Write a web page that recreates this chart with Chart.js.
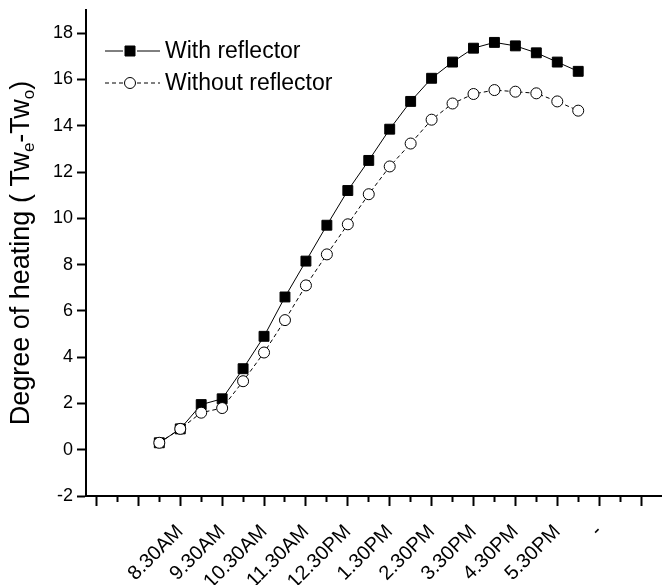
<!DOCTYPE html>
<html>
<head>
<meta charset="utf-8">
<script src="https://cdn.jsdelivr.net/npm/chart.js@4"></script>
<style>
  body { margin: 0; background: #fff; }
  #wrap { width: 662px; height: 585px; }
</style>
</head>
<body>
<div id="wrap"><canvas id="heating" width="662" height="585"></canvas></div>
<script>
// tick slots are half hours, labels sit on every second one
const xTickLabels = ['', '', '', '', '8.30AM', '', '9.30AM', '', '10.30AM', '', '11.30AM', '', '12.30PM', '',
	'1.30PM', '', '2.30PM', '', '3.30PM', '', '4.30PM', '', '5.30PM', '', '-', '', '']
const readingSlots = [3, 4, 5, 6, 7, 8, 9, 10, 11, 12, 13, 14, 15, 16, 17, 18, 19, 20, 21, 22, 23]
const withReflector = [0.3, 0.9, 1.95, 2.2, 3.5, 4.9, 6.6, 8.15, 9.7, 11.2, 12.5, 13.85, 15.05, 16.05, 16.75,
	17.35, 17.6, 17.45, 17.15, 16.75, 16.35]
const withoutReflector = [0.3, 0.9, 1.6, 1.8, 2.96, 4.2, 5.6, 7.1, 8.44, 9.74, 11.04, 12.24, 13.23, 14.26, 14.96,
	15.37, 15.54, 15.47, 15.4, 15.05, 14.65]
const yMin = -2
const yMax = 19

const FONT = "'Liberation Sans', Arial, sans-serif"
Chart.defaults.font.family = FONT
Chart.defaults.color = '#000'

const toPoints = values => values.map((y, i) => ({ x: readingSlots[i], y }))

// y title with subscripts + legend inside the plot
const overlay = {
	id: 'overlay',
	afterDraw(chart) {
		const { ctx, chartArea } = chart
		ctx.save()
		ctx.translate(22, (chartArea.top + chartArea.bottom) / 2)
		ctx.rotate(-Math.PI / 2)
		ctx.fillStyle = '#000'
		ctx.textBaseline = 'middle'
		const parts = [
			['Degree of heating ( Tw', 27, 0],
			['e', 17, 7],
			['-Tw', 27, 0],
			['o', 17, 7],
			[')', 27, 0]
		]
		let total = 0
		parts.forEach(p => {
			ctx.font = `${p[1]}px ${FONT}`
			total += ctx.measureText(p[0]).width
		})
		let x = -total / 2
		parts.forEach(p => {
			ctx.font = `${p[1]}px ${FONT}`
			ctx.fillText(p[0], x, p[2])
			x += ctx.measureText(p[0]).width
		})
		ctx.restore()

		ctx.save()
		ctx.font = `23px ${FONT}`
		ctx.textBaseline = 'middle'
		chart.data.datasets.forEach((ds, i) => {
			const y = 51 + 32 * i
			ctx.strokeStyle = '#000'
			ctx.lineWidth = 1
			ctx.setLineDash(ds.borderDash || [])
			ctx.beginPath()
			ctx.moveTo(105, y); ctx.lineTo(123, y)
			ctx.moveTo(137, y); ctx.lineTo(160, y)
			ctx.stroke()
			ctx.setLineDash([])
			ctx.fillStyle = ds.pointBackgroundColor
			ctx.beginPath()
			if (ds.pointStyle === 'rect') ctx.rect(125, y - 5, 10, 10)
			else ctx.arc(130, y, ds.pointRadius, 0, Math.PI * 2)
			ctx.fill()
			ctx.stroke()
			ctx.fillStyle = '#000'
			ctx.fillText(ds.label, 165, y + 1)
		})
		ctx.restore()
	}
}

new Chart(document.getElementById('heating'), {
	type: 'line',
	data: {
		datasets: [
			{
				label: 'With reflector',
				data: toPoints(withReflector),
				order: 1,
				borderColor: '#000',
				borderWidth: 1,
				pointStyle: 'rect',
				pointRadius: 7,
				pointBackgroundColor: '#000',
				pointBorderColor: '#000',
				pointBorderWidth: 1
			},
			{
				label: 'Without reflector',
				data: toPoints(withoutReflector),
				order: 0,
				borderColor: '#000',
				borderWidth: 1,
				borderDash: [4, 3],
				pointStyle: 'circle',
				pointRadius: 5.5,
				pointBackgroundColor: '#fff',
				pointBorderColor: '#000',
				pointBorderWidth: 1
			}
		]
	},
	options: {
		responsive: false,
		animation: false,
		clip: false,
		layout: { autoPadding: false, padding: { top: 10, right: 0, bottom: 0, left: 0 } },
		plugins: {
			legend: { display: false },
			tooltip: { enabled: false }
		},
		scales: {
			x: {
				type: 'linear',
				min: -0.5,
				max: 27,
				afterBuildTicks: s => { s.ticks = xTickLabels.map((_, i) => ({ value: i })) },
				afterFit: s => {
					s.height = 89
					s.paddingLeft = 0
					s.paddingRight = 0
				},
				border: { display: true, color: '#000', width: 2 },
				grid: {
					drawOnChartArea: false,
					color: '#000',
					tickLength: 10,
					tickWidth: 2,
					tickBorderDash: ctx => (ctx.index % 2 ? [5, 40] : [])
				},
				ticks: {
					autoSkip: false,
					minRotation: 45,
					maxRotation: 45,
					padding: 14,
					font: { size: 20 },
					callback: v => xTickLabels[v] ?? ''
				}
			},
			y: {
				min: yMin,
				max: yMax,
				afterFit: s => {
					s.width = 86
					s.paddingTop = 0
					s.paddingBottom = 0
				},
				border: { display: true, color: '#000', width: 2 },
				grid: {
					drawOnChartArea: false,
					color: '#000',
					tickLength: 9,
					tickWidth: 2,
					tickBorderDash: ctx => (ctx.tick && ctx.tick.value % 2 ? [0, 5, 4, 40] : [])
				},
				ticks: {
					stepSize: 1,
					padding: 4,
					font: { size: 18 },
					callback: v => (v % 2 === 0 ? v : '')
				}
			}
		}
	},
	plugins: [overlay]
})
</script>
</body>
</html>
